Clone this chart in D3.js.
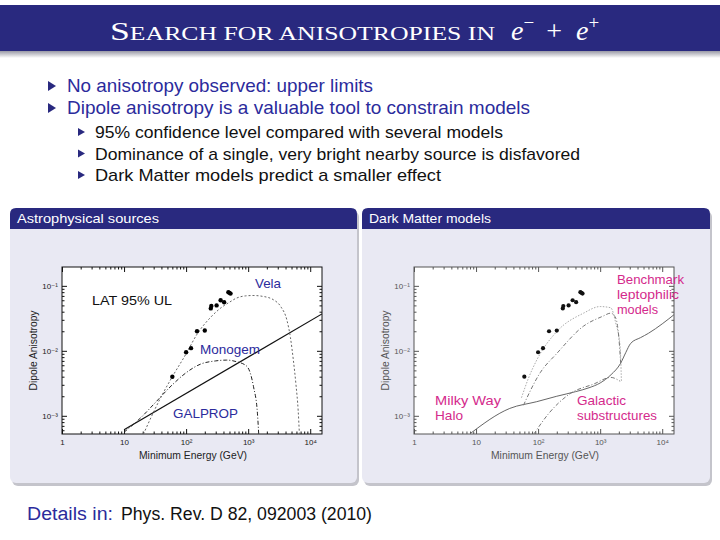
<!DOCTYPE html>
<html>
<head>
<meta charset="utf-8">
<script src="https://cdn.jsdelivr.net/npm/d3@7"></script>
<style>
  body { margin: 0; background: #fff; }
  svg { display: block; }
</style>
</head>
<body>
<svg id="slide" width="720" height="540"></svg>
<script>
// Fermi-LAT 95% upper limits (same points in both panels)
const ulEnergy = [60, 100, 120, 150, 200, 250, 255, 310, 360, 410, 480, 500, 520];
const ulDipole = [0.0040, 0.0095, 0.011, 0.020, 0.0205, 0.045, 0.049, 0.050, 0.060, 0.056, 0.080, 0.078, 0.076];

// astrophysical sources, [energy GeV, dipole anisotropy]
const velaCurve = [[20.5, 5.2e-4], [28, 1.0e-3], [40, 2.0e-3], [60, 4.0e-3], [100, 9.0e-3], [150, 1.8e-2],
  [250, 3.3e-2], [355, 4.5e-2], [500, 5.6e-2], [655, 6.5e-2], [900, 7.0e-2], [1200, 7.1e-2], [1700, 6.9e-2],
  [2560, 6.1e-2], [3400, 4.7e-2], [4200, 3.0e-2], [4800, 1.6e-2], [5350, 7.2e-3], [5900, 3.0e-3],
  [6400, 1.2e-3], [6700, 5.2e-4]];
const monogemCurve = [[10, 5.6e-4], [20, 1.0e-3], [30, 1.5e-3], [60, 3.0e-3], [100, 4.6e-3], [168, 6.2e-3],
  [300, 7.0e-3], [450, 7.2e-3], [650, 6.8e-3], [950, 5.8e-3], [1220, 2.8e-3], [1410, 1.1e-3], [1480, 5.2e-4]];
const galpropCurve = [[10, 6.1e-4], [15500, 0.037]];

// dark matter models
const haloCurve = [[8, 5.3e-4], [35, 1.3e-3], [95, 1.65e-3], [200, 2.0e-3], [400, 2.35e-3], [660, 2.7e-3],
  [1000, 3.2e-3], [1500, 4.3e-3], [2130, 6.4e-3], [2600, 9.5e-3], [3100, 1.3e-2], [4500, 1.6e-2],
  [6000, 1.86e-2], [10000, 2.6e-2], [15500, 3.6e-2]];
const substructCurve = [[85, 5.2e-4], [150, 1.1e-3], [330, 2.2e-3], [800, 3.1e-3], [1480, 3.9e-3], [2100, 3.4e-3]];
const benchmarkA = [[54, 1.9e-3], [70, 3.8e-3], [95, 7.2e-3], [200, 1.98e-2], [540, 3.8e-2], [1000, 4.8e-2],
  [1480, 4.6e-2], [1780, 2.7e-2], [2100, 1.15e-2], [2200, 3.4e-3]];
const benchmarkB = [[58, 1.45e-3], [108, 4.6e-3], [200, 9.1e-3], [540, 2.4e-2], [1100, 3.4e-2], [1480, 3.8e-2],
  [1780, 3.2e-2], [2000, 1.6e-2], [2150, 6.0e-3]];

// axis ticks
const majorE = [1, 10, 100, 1000, 10000];
const majorELabels = ['1', '10', '10²', '10³', '10⁴'];
const majorD = [1e-3, 1e-2, 1e-1];
const majorDLabels = ['10⁻³', '10⁻²', '10⁻¹'];

// slide text
const bullets = ['No anisotropy observed: upper limits', 'Dipole anisotropy is a valuable tool to constrain models'];
const subBullets = ['95% confidence level compared with several models',
  'Dominance of a single, very bright nearby source is disfavored',
  'Dark Matter models predict a smaller effect'];

const NAVY = '#29297f';
const BLUE = '#2b2b9c';
const PINK = '#d42a8c';
const SANS = "'Liberation Sans', 'DejaVu Sans', sans-serif";

const svg = d3.select('#slide');
const defs = svg.append('defs');

// Title bar with shadow
const shadow = defs.append('linearGradient').attr('id', 'shade').attr('x1', 0).attr('x2', 0).attr('y1', 0).attr('y2', 1);
shadow.append('stop').attr('offset', 0).attr('stop-color', '#9a9aa6');
shadow.append('stop').attr('offset', 1).attr('stop-color', '#fff');

svg.append('rect').attr('x', 0).attr('y', 51).attr('width', 720).attr('height', 7).attr('fill', 'url(#shade)');
svg.append('rect').attr('x', 0).attr('y', 5).attr('width', 720).attr('height', 46).attr('fill', NAVY);

const title = svg.append('text')
  .attr('x', 110).attr('y', 40)
  .attr('fill', '#fff')
  .style('font-family', "'Liberation Serif', 'DejaVu Serif', serif")
  .attr('textLength', 385).attr('lengthAdjust', 'spacingAndGlyphs');
title.append('tspan').attr('font-size', 25).text('S');
title.append('tspan').attr('font-size', 18).text('EARCH FOR ANISOTROPIES IN');

const math = svg.append('text')
  .attr('x', 511).attr('y', 40)
  .attr('fill', '#fff')
  .style('font-family', "'Liberation Serif', 'DejaVu Serif', serif")
  .attr('font-size', 28);
math.append('tspan').attr('font-style', 'italic').text('e');
math.append('tspan').attr('font-size', 19).attr('dy', -11).text('−');
math.append('tspan').attr('dy', 11).attr('dx', 12).text('+');
math.append('tspan').attr('font-style', 'italic').attr('dx', 14).text('e');
math.append('tspan').attr('font-size', 19).attr('dy', -11).text('+');

// Bullets
function triangle(x, y, w, h) {
  return `M${x},${y - h / 2}L${x + w},${y}L${x},${y + h / 2}Z`;
}

const bulletWidths = [306, 463];
bullets.forEach((t, i) => {
  const yb = 92 + i * 22;
  svg.append('path').attr('d', triangle(48, yb - 6, 8, 10)).attr('fill', NAVY);
  svg.append('text').attr('x', 67).attr('y', yb)
    .attr('fill', BLUE).attr('font-size', 19).style('font-family', SANS)
    .attr('textLength', bulletWidths[i]).attr('lengthAdjust', 'spacingAndGlyphs')
    .text(t);
});

const subWidths = [408, 485, 346];
subBullets.forEach((t, i) => {
  const yb = 138 + i * 21.5;
  svg.append('path').attr('d', triangle(78, yb - 6, 7, 8)).attr('fill', NAVY);
  svg.append('text').attr('x', 95).attr('y', yb)
    .attr('fill', '#111').attr('font-size', 17).style('font-family', SANS)
    .attr('textLength', subWidths[i]).attr('lengthAdjust', 'spacingAndGlyphs')
    .text(t);
});

// Panels
function panel(x, w, label, labelWidth) {
  const y = 208, h = 275, r = 6, hh = 21;
  svg.append('rect').attr('x', x + 2).attr('y', y + 3).attr('width', w).attr('height', h)
    .attr('rx', r).attr('fill', '#9c9ca8').attr('opacity', 0.6);
  svg.append('rect').attr('x', x).attr('y', y).attr('width', w).attr('height', h)
    .attr('rx', r).attr('fill', '#e9e9f3');
  svg.append('path')
    .attr('d', `M${x},${y + hh}V${y + r}Q${x},${y} ${x + r},${y}H${x + w - r}Q${x + w},${y} ${x + w},${y + r}V${y + hh}Z`)
    .attr('fill', NAVY);
  svg.append('text').attr('x', x + 7).attr('y', y + 15)
    .attr('fill', '#fff').attr('font-size', 13).style('font-family', SANS)
    .attr('textLength', labelWidth).attr('lengthAdjust', 'spacingAndGlyphs')
    .text(label);
}
panel(10, 347, 'Astrophysical sources', 142);
panel(362, 348, 'Dark Matter models', 122);

// Plots
let clipId = 0;
function plot(x0, ink, tickInk) {
  const x1 = x0 + 260, y0 = 267, y1 = 434;
  const x = d3.scaleLog().domain([1, Math.pow(10, 4.19)]).range([x0, x1]);
  const y = d3.scaleLog().domain([Math.pow(10, -3.28), Math.pow(10, -0.71)]).range([y1, y0]);
  const g = svg.append('g');

  g.append('rect').attr('x', x0).attr('y', y0).attr('width', x1 - x0).attr('height', y1 - y0).attr('fill', '#fff');

  const minorE = x.ticks().filter(d => !majorE.includes(d));
  const minorD = y.ticks().filter(d => !majorD.some(m => Math.abs(m - d) < 1e-9));

  const axes = [
    [d3.axisBottom(x).tickValues(majorE).tickSize(-5).tickPadding(5).tickFormat((d, i) => majorELabels[i]), `translate(0,${y1})`],
    [d3.axisBottom(x).tickValues(minorE).tickSize(-2.5).tickFormat(''), `translate(0,${y1})`],
    [d3.axisTop(x).tickValues(majorE).tickSize(-5).tickFormat(''), `translate(0,${y0})`],
    [d3.axisTop(x).tickValues(minorE).tickSize(-2.5).tickFormat(''), `translate(0,${y0})`],
    [d3.axisLeft(y).tickValues(majorD).tickSize(-5).tickPadding(4).tickFormat((d, i) => majorDLabels[i]), `translate(${x0},0)`],
    [d3.axisLeft(y).tickValues(minorD).tickSize(-2.5).tickFormat(''), `translate(${x0},0)`],
    [d3.axisRight(y).tickValues(majorD).tickSize(-5).tickFormat(''), `translate(${x1},0)`],
    [d3.axisRight(y).tickValues(minorD).tickSize(-2.5).tickFormat(''), `translate(${x1},0)`]
  ];
  axes.forEach(([axis, tr]) => {
    const a = g.append('g').attr('transform', tr).call(axis);
    a.select('.domain').remove();
    a.selectAll('line').attr('stroke', ink);
    a.selectAll('text').attr('fill', tickInk).style('font-family', SANS).attr('font-size', 8);
  });

  g.append('rect').attr('x', x0).attr('y', y0).attr('width', x1 - x0).attr('height', y1 - y0)
    .attr('fill', 'none').attr('stroke', ink).attr('stroke-width', 1);

  g.append('text').attr('x', (x0 + x1) / 2 + 1).attr('y', 459)
    .attr('text-anchor', 'middle').attr('fill', tickInk).attr('font-size', 11).style('font-family', SANS)
    .attr('textLength', 108).attr('lengthAdjust', 'spacingAndGlyphs')
    .text('Minimum Energy (GeV)');
  g.append('text')
    .attr('transform', `translate(${x0 - 25},${(y0 + y1) / 2}) rotate(-90)`)
    .attr('text-anchor', 'middle').attr('fill', tickInk).attr('font-size', 11).style('font-family', SANS)
    .attr('textLength', 80).attr('lengthAdjust', 'spacingAndGlyphs')
    .text('Dipole Anisotropy');

  const id = `clip${clipId++}`;
  defs.append('clipPath').attr('id', id)
    .append('rect').attr('x', x0).attr('y', y0).attr('width', x1 - x0).attr('height', y1 - y0);
  const inner = g.append('g').attr('clip-path', `url(#${id})`);

  return {x, y, g, inner};
}

function curve(p, data, stroke, dash, width) {
  const line = d3.line().x(d => p.x(d[0])).y(d => p.y(d[1])).curve(d3.curveMonotoneX);
  p.inner.append('path').datum(data)
    .attr('d', line)
    .attr('fill', 'none')
    .attr('stroke', stroke)
    .attr('stroke-width', width || 1)
    .attr('stroke-dasharray', dash);
}

function points(p, r, fill) {
  p.inner.selectAll('circle.ul').data(ulEnergy).join('circle')
    .attr('class', 'ul')
    .attr('cx', d => p.x(d))
    .attr('cy', (d, i) => p.y(ulDipole[i]))
    .attr('r', r)
    .attr('fill', fill);
}

function label(p, text, x, y, fill, width) {
  p.g.append('text').attr('x', x).attr('y', y)
    .attr('fill', fill).attr('font-size', 13).style('font-family', SANS)
    .attr('textLength', width).attr('lengthAdjust', 'spacingAndGlyphs')
    .text(text);
}

// Left: astrophysical sources
const left = plot(62, '#111', '#222');
curve(left, galpropCurve, '#111', null, 1.2);
curve(left, velaCurve, '#666', '2,2', 1);
curve(left, monogemCurve, '#222', '4,2,1,2', 1);
points(left, 2.2, '#000');
label(left, 'LAT 95% UL', 92, 305, '#111', 80);
label(left, 'Vela', 255, 288, BLUE, 26);
label(left, 'Monogem', 200, 354, BLUE, 60);
label(left, 'GALPROP', 173, 418, BLUE, 65);

// Right: dark matter
const right = plot(414, '#555', '#555');
curve(right, haloCurve, '#666', null, 1);
curve(right, substructCurve, '#777', '4,2,1,2', 1);
curve(right, benchmarkA, '#aaa', '1.5,1.5', 1);
curve(right, benchmarkB, '#777', '4,2,1,2', 1);
points(right, 2.1, '#111');
label(right, 'Benchmark', 617, 284, PINK, 67);
label(right, 'leptophilic', 617, 299, PINK, 62);
label(right, 'models', 617, 314, PINK, 41);
label(right, 'Milky Way', 435, 405, PINK, 66);
label(right, 'Halo', 435, 420, PINK, 28);
label(right, 'Galactic', 577, 405, PINK, 49);
label(right, 'substructures', 577, 420, PINK, 80);

// Footer
const foot = svg.append('g').style('font-family', SANS).attr('font-size', 18);
foot.append('text').attr('x', 27).attr('y', 520).attr('fill', BLUE)
  .attr('textLength', 86).attr('lengthAdjust', 'spacingAndGlyphs').text('Details in:');
foot.append('text').attr('x', 121).attr('y', 520).attr('fill', '#111')
  .attr('textLength', 251).attr('lengthAdjust', 'spacingAndGlyphs').text('Phys. Rev. D 82, 092003 (2010)');
</script>
</body>
</html>
